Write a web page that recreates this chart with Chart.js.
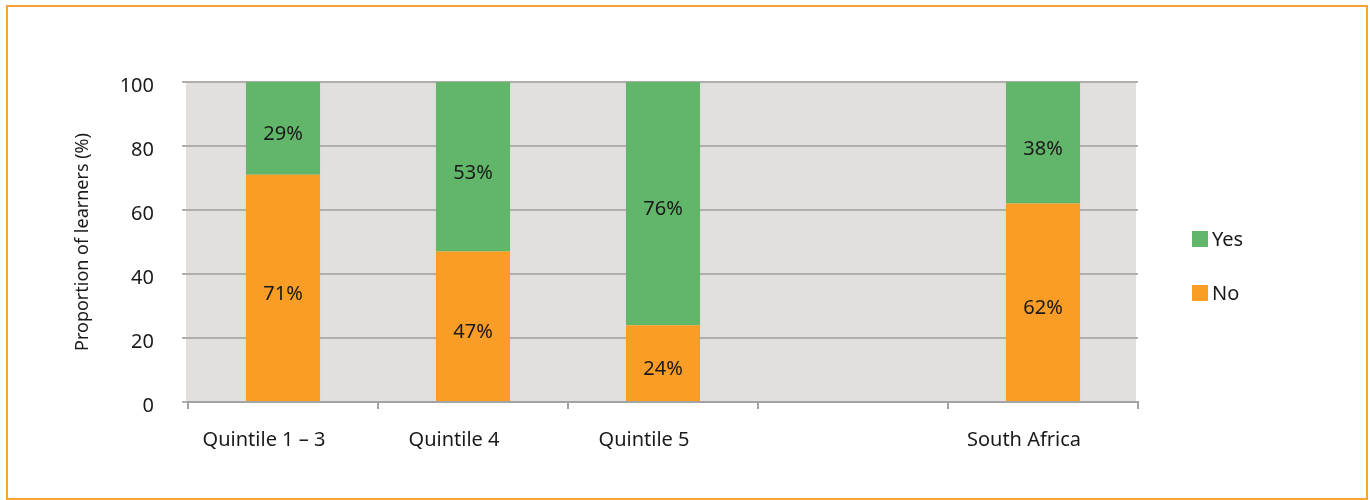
<!DOCTYPE html>
<html>
<head>
<meta charset="utf-8">
<script src="https://cdn.jsdelivr.net/npm/chart.js@4/dist/chart.umd.min.js"></script>
<style>
  body { margin: 0; background: #fff; }
  #wrap { position: relative; width: 1370px; height: 500px; }
  #frame { position: absolute; left: 6px; top: 5px; width: 1358px; height: 491px; border: 2px solid #f7a233; pointer-events: none; }
</style>
</head>
<body>
<div id="wrap">
  <canvas id="chart" width="1370" height="500"></canvas>
  <div id="frame"></div>
</div>
<script>
const categories = ['Quintile 1 \u2013 3', 'Quintile 4', 'Quintile 5', '', 'South Africa']
const noValues = [71, 47, 24, null, 62]
const yesValues = [29, 53, 76, null, 38]
const yTicks = [0, 20, 40, 60, 80, 100]

const FONT = '"Noto Sans", "Open Sans", sans-serif'

// grey plot panel sits ~2px left of the axis in the original
const plotBg = {
  id: 'plotBg',
  beforeDraw(chart) {
    let { ctx, chartArea } = chart
    ctx.save()
    ctx.fillStyle = '#e1e0df'
    ctx.fillRect(chartArea.left - 2, chartArea.top, chartArea.right - chartArea.left, chartArea.bottom - chartArea.top)
    ctx.restore()
  }
}

const barLabels = {
  id: 'barLabels',
  afterDatasetsDraw(chart) {
    let ctx = chart.ctx
    ctx.save()
    ctx.font = '20px ' + FONT
    ctx.fillStyle = '#1a1a1a'
    ctx.textAlign = 'center'
    ctx.textBaseline = 'middle'
    chart.data.datasets.forEach((ds, i) => {
      chart.getDatasetMeta(i).data.forEach((bar, j) => {
        let v = ds.data[j]
        if (v == null) return
        let mid = (bar.y + bar.base) / 2
        ctx.fillText(v + '%', bar.x, mid + 6)
      })
    })
    ctx.restore()
  }
}

const sideLegend = {
  id: 'sideLegend',
  afterDraw(chart) {
    let ctx = chart.ctx
    let items = [chart.data.datasets[1], chart.data.datasets[0]]
    ctx.save()
    ctx.font = '20px ' + FONT
    ctx.textBaseline = 'middle'
    ctx.textAlign = 'left'
    items.forEach((ds, i) => {
      let y = 239 + i * 54
      ctx.fillStyle = ds.backgroundColor
      ctx.fillRect(1192, y - 8, 16, 16)
      ctx.fillStyle = '#1a1a1a'
      ctx.fillText(ds.label, 1212, y + 1)
    })
    ctx.restore()
  }
}

const data = {
  labels: categories,
  datasets: [
    { label: 'No', data: noValues, backgroundColor: '#f99d26' },
    { label: 'Yes', data: yesValues, backgroundColor: '#62b669' }
  ]
}

const config = {
  type: 'bar',
  data: data,
  options: {
    responsive: false,
    animation: false,
    layout: { padding: { left: 72, top: 82, right: 232, bottom: 36 } },
    datasets: { bar: { categoryPercentage: 1, barPercentage: 0.39 } },
    plugins: { legend: { display: false }, tooltip: { enabled: false } },
    scales: {
      x: {
        stacked: true,
        grid: { offset: true, drawOnChartArea: false, drawTicks: true, tickLength: 7, color: '#a3a3a3', lineWidth: 2 },
        border: { display: true, color: '#a3a3a3', width: 2 },
        ticks: { color: '#1a1a1a', font: { family: FONT, size: 20 }, padding: 19, labelOffset: -19, maxRotation: 0, autoSkip: false },
        afterFit(scale) { scale.height = 62 }
      },
      y: {
        stacked: true,
        min: 0,
        max: 100,
        afterBuildTicks(scale) { scale.ticks = yTicks.map(v => ({ value: v })) },
        grid: { color: '#b1adac', lineWidth: 2, tickLength: 6 },
        border: { display: false },
        ticks: { color: '#1a1a1a', font: { family: FONT, size: 20 }, padding: 28, labelOffset: 4 },
        title: { display: true, text: 'Proportion of learners (%)', color: '#1a1a1a', font: { family: FONT, size: 18 }, padding: 0 },
        afterFit(scale) { scale.width = 116 }
      }
    }
  },
  plugins: [plotBg, barLabels, sideLegend]
}

const myChart = new Chart(document.getElementById('chart'), config)
</script>
</body>
</html>
